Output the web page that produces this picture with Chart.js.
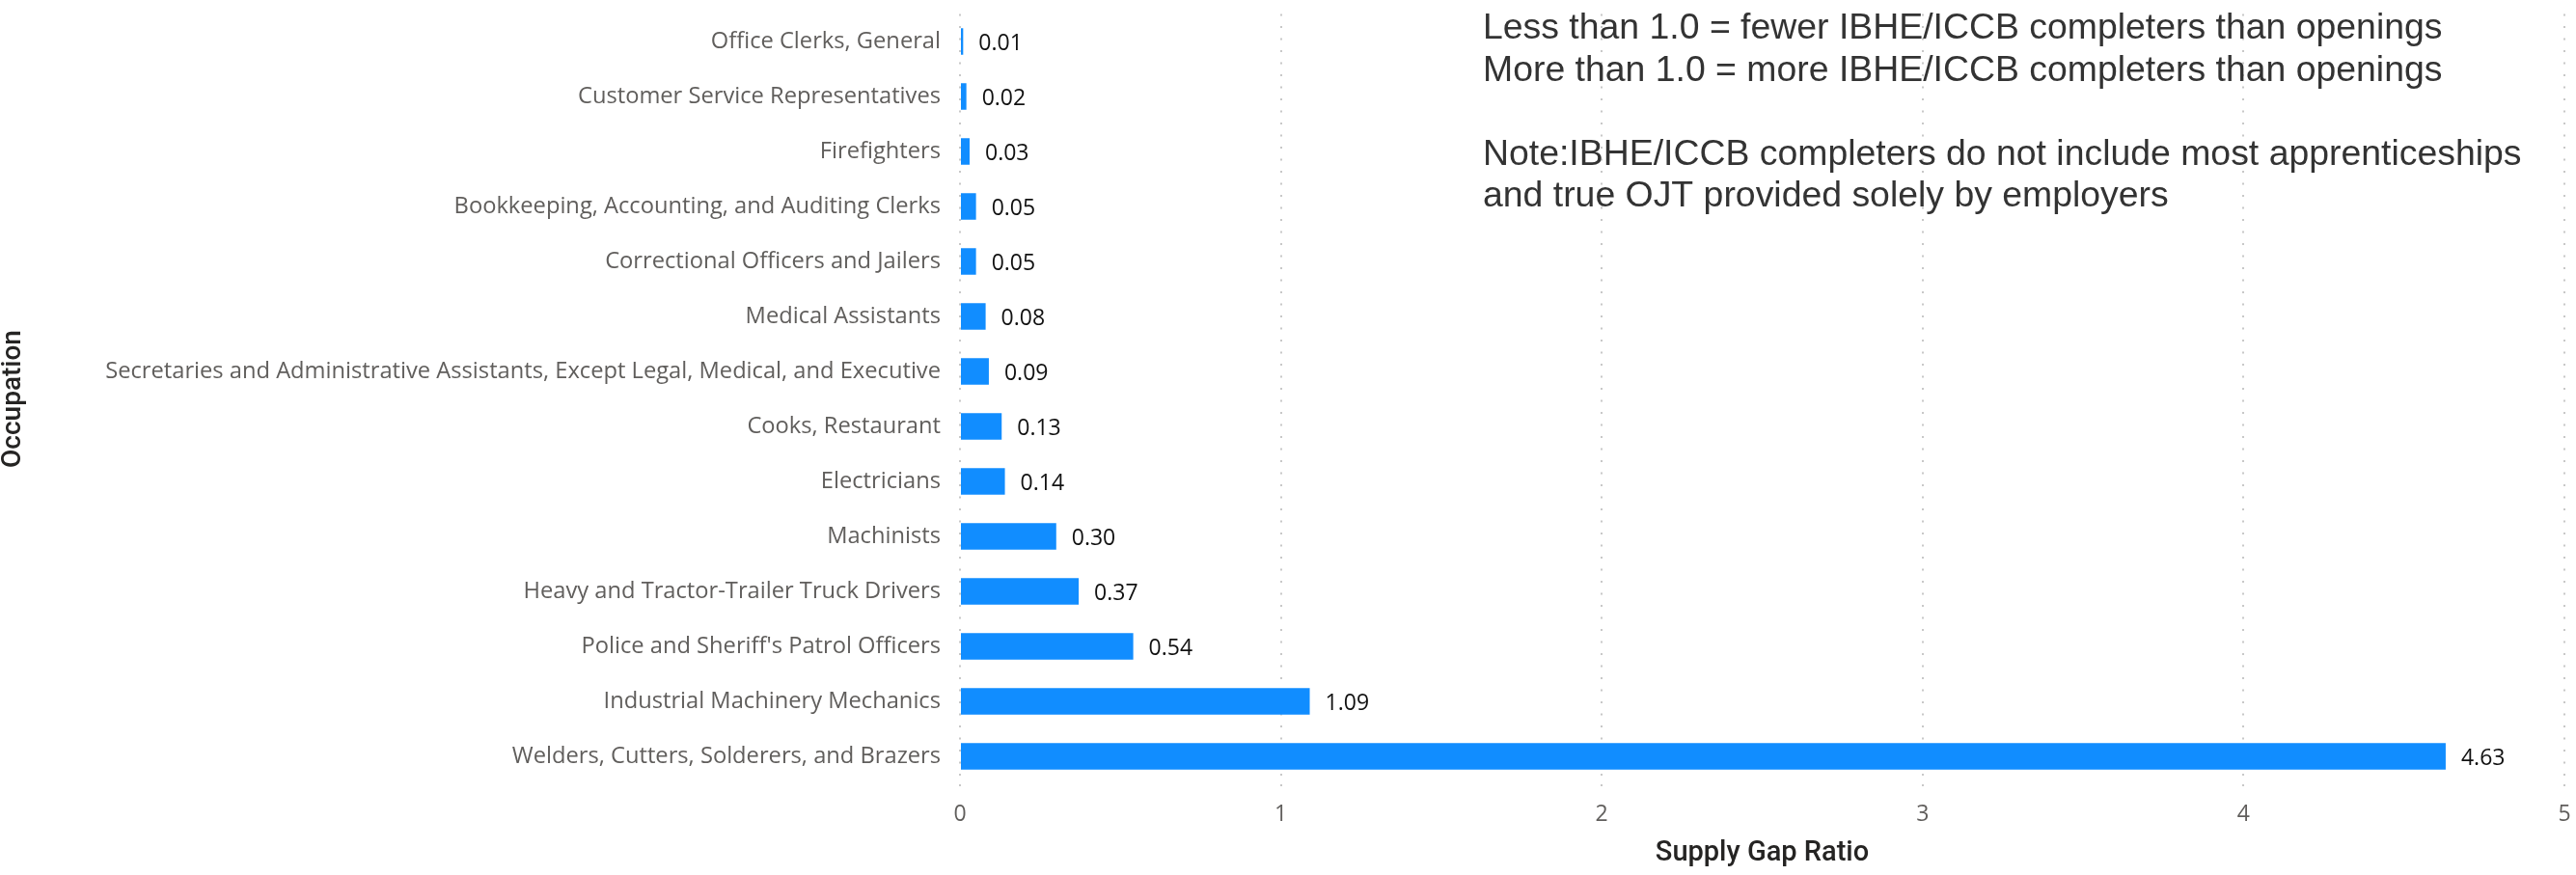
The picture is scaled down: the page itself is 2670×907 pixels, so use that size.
<!DOCTYPE html>
<html>
<head>
<meta charset="utf-8">
<script src="https://cdn.jsdelivr.net/npm/chart.js@4.4.1/dist/chart.umd.min.js"></script>
<style>
  html, body { margin: 0; padding: 0; background: #ffffff; }
  #wrap { width: 2670px; height: 907px; position: relative; }
</style>
</head>
<body>
<div id="wrap"><canvas id="c" width="2670" height="907"></canvas></div>
<script>
const occupations = [
  "Office Clerks, General",
  "Customer Service Representatives",
  "Firefighters",
  "Bookkeeping, Accounting, and Auditing Clerks",
  "Correctional Officers and Jailers",
  "Medical Assistants",
  "Secretaries and Administrative Assistants, Except Legal, Medical, and Executive",
  "Cooks, Restaurant",
  "Electricians",
  "Machinists",
  "Heavy and Tractor-Trailer Truck Drivers",
  "Police and Sheriff's Patrol Officers",
  "Industrial Machinery Mechanics",
  "Welders, Cutters, Solderers, and Brazers"
];
const supplyGapRatio = [0.01, 0.02, 0.03, 0.05, 0.05, 0.08, 0.09, 0.13, 0.14, 0.30, 0.37, 0.54, 1.09, 4.63];
const xTicks = [0, 1, 2, 3, 4, 5];
const noteLines = [
  "Less than 1.0 = fewer IBHE/ICCB completers than openings",
  "More than 1.0 = more IBHE/ICCB completers than openings",
  "",
  "Note:IBHE/ICCB completers do not include most apprenticeships",
  "and true OJT provided solely by employers"
];
const xTitle = "Supply Gap Ratio";
const yTitle = "Occupation";

const valueLabels = {
  id: 'valueLabels',
  afterDatasetsDraw(chart) {
    const ctx = chart.ctx;
    const meta = chart.getDatasetMeta(0);
    ctx.save();
    ctx.font = '400 23px "Open Sans"';
    ctx.fillStyle = '#111111';
    ctx.textAlign = 'left';
    ctx.textBaseline = 'middle';
    meta.data.forEach((bar, i) => {
      const v = chart.data.datasets[0].data[i];
      ctx.fillText(v.toFixed(2), bar.x + 16, bar.y + 2);
    });
    ctx.restore();
  }
};

const noteText = {
  id: 'noteText',
  afterDraw(chart) {
    const ctx = chart.ctx;
    ctx.save();
    ctx.font = '400 37.4px "Liberation Sans", Arial, sans-serif';
    ctx.fillStyle = '#333333';
    ctx.textAlign = 'left';
    ctx.textBaseline = 'alphabetic';
    const x0 = 1537, y0 = 40, lh = 43.5;
    noteLines.forEach((t, i) => { if (t) ctx.fillText(t, x0, y0 + i * lh); });
    ctx.restore();
  }
};

new Chart(document.getElementById('c'), {
  type: 'bar',
  data: {
    labels: occupations,
    datasets: [{
      data: supplyGapRatio,
      backgroundColor: '#118DFF',
      borderWidth: 0,
      categoryPercentage: 1.0,
      barPercentage: 0.486
    }]
  },
  options: {
    indexAxis: 'y',
    responsive: false,
    animation: false,
    devicePixelRatio: 1,
    layout: { padding: { left: 0, right: 12, top: 14.5, bottom: 0 } },
    plugins: { legend: { display: false }, tooltip: { enabled: false } },
    scales: {
      x: {
        type: 'linear',
        min: xTicks[0],
        max: xTicks[xTicks.length - 1],
        afterBuildTicks(scale) { scale.ticks = xTicks.map(v => ({ value: v })); },
        afterFit(scale) { scale.height = 94.5; scale.paddingLeft = 0; scale.paddingRight = 0; },
        border: { display: false, dash: [2, 10.5] },
        grid: {
          color: '#c8c8c8',
          lineWidth: 2,
          drawTicks: true,
          tickLength: 10,
          tickBorderDash: [2, 10.5],
          tickColor: '#c8c8c8',
          tickWidth: 2
        },
        ticks: {
          color: '#605E5C',
          font: { family: '"Open Sans"', size: 23 },
          padding: 8,
          maxRotation: 0
        },
        title: {
          display: true,
          text: xTitle,
          color: '#252423',
          font: { family: 'Roboto', size: 29, weight: '500', lineHeight: 1.2 },
          padding: { top: 0, bottom: 5 }
        }
      },
      y: {
        afterFit(scale) { scale.width = 995; scale.paddingTop = 0; scale.paddingBottom = 0; },
        border: { display: false },
        grid: { display: false, drawTicks: false },
        ticks: {
          color: '#605E5C',
          font: { family: '"Open Sans"', size: 23.7 },
          padding: 20,
          autoSkip: false
        },
        title: {
          display: true,
          text: yTitle,
          color: '#252423',
          font: { family: 'Roboto', size: 28, weight: '500', lineHeight: 1 },
          padding: { top: 0, bottom: 0 }
        }
      }
    }
  },
  plugins: [valueLabels, noteText]
});
</script>
</body>
</html>
